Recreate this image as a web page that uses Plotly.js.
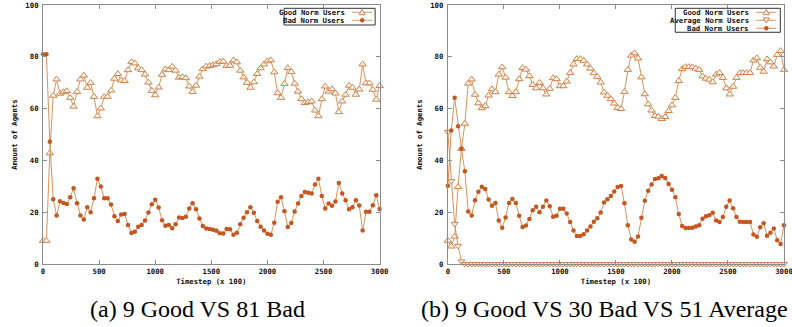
<!DOCTYPE html>
<html><head><meta charset="utf-8">
<script src="https://cdn.plot.ly/plotly-3.0.1.min.js"></script>
<style>html,body{margin:0;padding:0;background:#fff}#chart{width:792px;height:327px}</style>
</head><body><div id="chart"></div>
<script>
// ---------- data ----------
const nPoints = 100;            // samples per run, spanning timestep 0..3000
const tMax = 3000;
const xTickVals = [0, 500, 1000, 1500, 2000, 2500, 3000];
const xTickText = ['0', '500', '1000', '1500', '2000', '2500', '3000'];
const yTickVals = [0, 20, 40, 60, 80, 100];
const yTickText = ['0', '20', '40', '60', '80', '100'];

// (a) 9 Good VS 81 Bad
const goodA = [9, 9, 42.8, 65.0, 71.3, 65.8, 66.4, 66.8, 64.2, 60.8,
  66.5, 71.3, 72.8, 68.1, 70.0, 64.6, 57.1, 60.1, 64.6, 64.6,
  67.0, 71.6, 73.4, 70.9, 70.7, 74.9, 78.0, 77.5, 75.6, 74.9,
  73.2, 70.1, 66.9, 65.2, 68.2, 73.1, 75.2, 74.9, 76.2, 74.7,
  72.0, 72.2, 71.8, 68.6, 66.5, 68.9, 72.4, 75.3, 76.3, 76.5,
  76.8, 77.2, 78.1, 78.2, 76.5, 76.6, 78.7, 77.9, 74.7, 72.1,
  70.0, 68.1, 70.2, 73.4, 75.6, 77.1, 78.3, 78.7, 74.1, 66.0,
  64.2, 69.6, 75.7, 74.2, 69.7, 66.6, 63.7, 62.2, 62.5, 62.8,
  59.3, 57.1, 63.7, 68.6, 66.6, 67.5, 65.9, 58.7, 62.8, 65.4,
  68.9, 68.1, 65.4, 67.4, 77.1, 69.8, 69.8, 67.3, 63.5, 68.8];
const badA = [81, 81, 47.2, 25.0, 18.7, 24.2, 23.6, 23.2, 25.8, 29.2,
  23.5, 18.7, 17.2, 21.9, 20.0, 25.4, 32.9, 29.9, 25.4, 25.4,
  23.0, 18.4, 16.6, 19.1, 19.3, 15.1, 12.0, 12.5, 14.4, 15.1,
  16.8, 19.9, 23.1, 24.8, 21.8, 16.9, 14.8, 15.1, 13.8, 15.3,
  18.0, 17.8, 18.2, 21.4, 23.5, 21.1, 17.6, 14.7, 13.7, 13.5,
  13.2, 12.8, 11.9, 11.8, 13.5, 13.4, 11.3, 12.1, 15.3, 17.9,
  20.0, 21.9, 19.8, 16.6, 14.4, 12.9, 11.7, 11.3, 15.9, 24.0,
  25.8, 20.4, 14.3, 15.8, 20.3, 23.4, 26.3, 27.8, 27.5, 27.2,
  30.7, 32.9, 26.3, 21.4, 23.4, 22.5, 24.1, 31.3, 27.2, 24.6,
  21.1, 21.9, 24.6, 22.6, 12.9, 20.2, 20.2, 22.7, 26.5, 21.2];

// (b) 9 Good VS 30 Bad VS 51 Average
const goodB = [9, 6.8, 10.6, 29.8, 44.5, 54.2, 69.7, 71.3, 65.4, 62.1,
  60.2, 61.0, 65.1, 67.5, 66.4, 73.2, 76.0, 72.0, 66.4, 64.9,
  66.4, 71.4, 75.7, 75.1, 72.6, 69.2, 67.9, 70.0, 67.9, 65.5,
  67.7, 71.8, 71.4, 68.7, 68.7, 70.5, 73.8, 77.1, 79.2, 79.2,
  78.5, 77.1, 75.5, 73.7, 72.3, 70.1, 66.3, 65.0, 63.7, 62.0,
  60.3, 59.9, 66.5, 75.0, 80.5, 81.4, 79.4, 72.1, 65.6, 61.7,
  59.3, 57.2, 56.9, 56.0, 56.8, 59.1, 61.3, 64.2, 70.7, 75.3,
  76.1, 76.1, 76.0, 75.5, 75.0, 72.5, 71.6, 71.2, 70.2, 73.2,
  73.8, 71.9, 67.9, 65.5, 68.5, 71.9, 73.7, 73.8, 73.8, 73.8,
  78.6, 79.5, 75.8, 74.3, 79.1, 77.9, 76.3, 80.8, 82.3, 75.0];
const avgB = [51, 32, 15.5, 7, 1, 0, 0, 0, 0, 0,
  0, 0, 0, 0, 0, 0, 0, 0, 0, 0,
  0, 0, 0, 0, 0, 0, 0, 0, 0, 0,
  0, 0, 0, 0, 0, 0, 0, 0, 0, 0,
  0, 0, 0, 0, 0, 0, 0, 0, 0, 0,
  0, 0, 0, 0, 0, 0, 0, 0, 0, 0,
  0, 0, 0, 0, 0, 0, 0, 0, 0, 0,
  0, 0, 0, 0, 0, 0, 0, 0, 0, 0,
  0, 0, 0, 0, 0, 0, 0, 0, 0, 0,
  0, 0, 0, 0, 0, 0, 0, 0, 0, 0];
const badB = [30.2, 51.5, 64.2, 53.2, 44.5, 35.8, 20.3, 18.7, 24.6, 27.9,
  29.8, 29.0, 24.9, 22.5, 23.6, 16.8, 14.0, 18.0, 23.6, 25.1,
  23.6, 18.6, 14.3, 14.9, 17.4, 20.8, 22.1, 20.0, 22.1, 24.5,
  22.3, 18.2, 18.6, 21.3, 21.3, 19.5, 16.2, 12.9, 10.8, 10.8,
  11.5, 12.9, 14.5, 16.3, 17.7, 19.9, 23.7, 25.0, 26.3, 28.0,
  29.7, 30.1, 23.5, 15.0, 9.5, 8.6, 10.6, 17.9, 24.4, 28.3,
  30.7, 32.8, 33.1, 34.0, 33.2, 30.9, 28.7, 25.8, 19.3, 14.7,
  13.9, 13.9, 14.0, 14.5, 15.0, 17.5, 18.4, 18.8, 19.8, 16.8,
  16.2, 18.1, 22.1, 24.5, 21.5, 18.1, 16.3, 16.2, 16.2, 16.2,
  11.4, 10.5, 14.2, 15.7, 10.9, 12.1, 13.7, 9.2, 7.7, 15.0];

const seriesNames = ['Good Norm Users', 'Average Norm Users', 'Bad Norm Users'];
const captions = ['(a) 9 Good VS 81 Bad', '(b) 9 Good VS 30 Bad VS 51 Average'];
const xTitle = 'Timestep (x 100)';
const yTitle = 'Amount of Agents';

// ---------- styling ----------
const timesteps = [];
for (let i = 0; i < nPoints; i++) timesteps.push(i * tMax / (nPoints - 1));

const W = 792, H = 327;
const M = {l: 43, r: 8.3, t: 5, b: 62.8};
const PW = W - M.l - M.r, PH = H - M.t - M.b;
const px2x = p => (p - M.l) / PW;
const py2y = p => (H - M.b - p) / PH;

const LINE = '#d8925c';
const MK = '#cc824c';
const DOT = '#c4561f';
const FRAME = '#8c8c8c';
const MONO = 'DejaVu Sans Mono';
const smallFont = {family: MONO, size: 7.3, color: '#111', weight: 'bold'};

function goodTrace(y, xa, ya, name) {
  return {x: timesteps, y, xaxis: xa, yaxis: ya, name, type: 'scatter', mode: 'lines+markers',
    cliponaxis: false, line: {color: LINE, width: 1},
    marker: {symbol: 'triangle-up', size: 6.5, color: '#fff8ef', line: {color: MK, width: 1}}};
}
function avgTrace(y, xa, ya, name) {
  return {x: timesteps, y, xaxis: xa, yaxis: ya, name, type: 'scatter', mode: 'lines+markers',
    cliponaxis: false, line: {color: LINE, width: 1},
    marker: {symbol: 'triangle-down', size: 6, color: '#fff8ef', line: {color: MK, width: 1}}};
}
function badTrace(y, xa, ya, name) {
  return {x: timesteps, y, xaxis: xa, yaxis: ya, name, type: 'scatter', mode: 'lines+markers',
    cliponaxis: false, line: {color: LINE, width: 1},
    marker: {symbol: 'circle', size: 4.5, color: DOT, line: {width: 0}}};
}

const data = [
  goodTrace(goodA, 'x', 'y', seriesNames[0]),
  badTrace(badA, 'x', 'y', seriesNames[2]),
  goodTrace(goodB, 'x2', 'y2', seriesNames[0]),
  avgTrace(avgB, 'x2', 'y2', seriesNames[1]),
  badTrace(badB, 'x2', 'y2', seriesNames[2])
];

function xAxis(domain, anchor) {
  return {domain, anchor, range: [0, tMax], tickvals: xTickVals, ticktext: xTickText,
    ticks: 'inside', ticklen: 4, tickcolor: FRAME, tickwidth: 1,
    showline: true, linecolor: FRAME, linewidth: 1, mirror: 'ticks',
    showgrid: false, zeroline: false, tickfont: smallFont, ticklabeloverflow: 'allow',
    title: {text: xTitle, font: smallFont, standoff: 4}};
}
function yAxis(anchor) {
  return {domain: [0, 1], anchor, range: [0, 100], tickvals: yTickVals, ticktext: yTickText,
    ticks: 'inside', ticklen: 4, tickcolor: FRAME, tickwidth: 1,
    showline: true, linecolor: FRAME, linewidth: 1, mirror: 'ticks',
    showgrid: false, zeroline: false, tickfont: smallFont, ticklabelstandoff: 2,
    title: {text: yTitle, font: smallFont, standoff: 6}};
}

const shapes = [], annotations = [];
function legend(boxL, boxR, boxT, boxB, textRight, sampleL, sampleR, rows) {
  shapes.push({type: 'rect', xref: 'paper', yref: 'paper', x0: px2x(boxL), x1: px2x(boxR),
    y0: py2y(boxB), y1: py2y(boxT), line: {color: '#333', width: 1}, fillcolor: '#fff'});
  rows.forEach(r => {
    annotations.push({xref: 'paper', yref: 'paper', x: px2x(textRight), y: py2y(r.py),
      xanchor: 'right', yanchor: 'middle', showarrow: false, text: r.name, font: smallFont});
    shapes.push({type: 'line', xref: 'paper', yref: 'paper', x0: px2x(sampleL), x1: px2x(sampleR),
      y0: py2y(r.py), y1: py2y(r.py), line: {color: LINE, width: 1}});
    const cx = px2x((sampleL + sampleR) / 2), cy = py2y(r.py);
    if (r.kind === 'dot') {
      shapes.push({type: 'circle', xref: 'paper', yref: 'paper', xsizemode: 'pixel', ysizemode: 'pixel',
        xanchor: cx, yanchor: cy, x0: -2.2, x1: 2.2, y0: -2.2, y1: 2.2,
        fillcolor: DOT, line: {width: 0}});
    } else {
      const path = r.kind === 'up' ? 'M -3 -2.4 L 3 -2.4 L 0 2.8 Z' : 'M -3 2.4 L 3 2.4 L 0 -2.8 Z';
      shapes.push({type: 'path', xref: 'paper', yref: 'paper', xsizemode: 'pixel', ysizemode: 'pixel',
        xanchor: cx, yanchor: cy, path, fillcolor: '#fff8ef', line: {color: MK, width: 1}});
    }
  });
}
legend(284, 375, 8.3, 25, 347, 352, 372, [
  {name: seriesNames[0], py: 12.3, kind: 'up'},
  {name: seriesNames[2], py: 20.3, kind: 'dot'}]);
legend(675, 780, 8.3, 32.3, 751, 756, 776, [
  {name: seriesNames[0], py: 12.3, kind: 'up'},
  {name: seriesNames[1], py: 20.3, kind: 'down'},
  {name: seriesNames[2], py: 28.3, kind: 'dot'}]);

annotations.push({xref: 'paper', yref: 'paper', x: px2x(197), y: py2y(309), xanchor: 'center', yanchor: 'middle',
  showarrow: false, text: captions[0], font: {family: 'Liberation Serif', size: 24, color: '#000'}});
annotations.push({xref: 'paper', yref: 'paper', x: px2x(604), y: py2y(309), xanchor: 'center', yanchor: 'middle',
  showarrow: false, text: captions[1], font: {family: 'Liberation Serif', size: 24, color: '#000'}});

const layout = {
  width: W, height: H, margin: M, showlegend: false,
  paper_bgcolor: '#fff', plot_bgcolor: '#fff',
  xaxis: xAxis([0, px2x(379.5)], 'y'),
  yaxis: yAxis('x'),
  xaxis2: xAxis([px2x(447.7), 1], 'y2'),
  yaxis2: yAxis('x2'),
  shapes, annotations
};
Plotly.newPlot('chart', data, layout, {staticPlot: true, displayModeBar: false});
</script></body></html>
